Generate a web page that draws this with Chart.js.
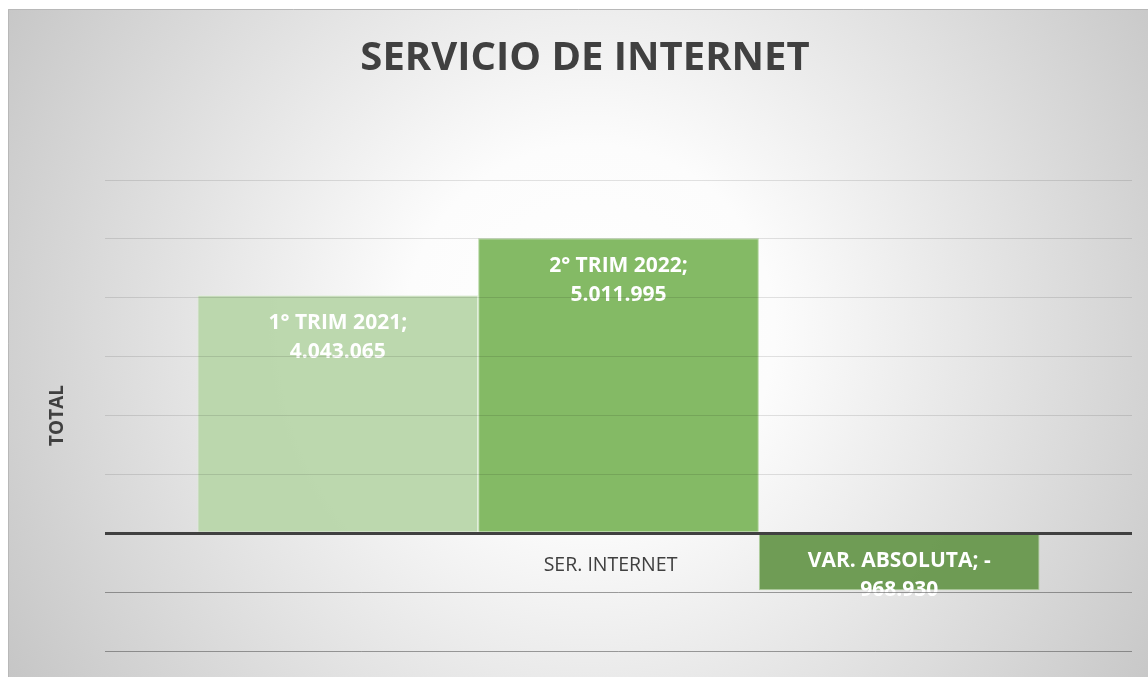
<!DOCTYPE html>
<html>
<head>
<meta charset="utf-8">
<script src="https://cdn.jsdelivr.net/npm/chart.js@4.4.1/dist/chart.umd.min.js"></script>
<style>
    html, body { margin: 0; padding: 0; background: #ffffff; }
    #wrap { width: 1148px; height: 677px; position: relative; }
</style>
</head>
<body>
<div id="wrap"><canvas id="myChart" width="1148" height="677"></canvas></div>
<script>
const categories = ["SER. INTERNET"];
const seriesNames = ["1° TRIM 2021", "2° TRIM 2022", "VAR. ABSOLUTA"];
const trim2021 = [4043065];
const trim2022 = [5011995];
const varAbsoluta = [-968930];
const yTicks = [-2000000, -1000000, 0, 1000000, 2000000, 3000000, 4000000, 5000000, 6000000];

const barColors = ["rgba(184, 214, 170, 0.95)", "rgba(128, 184, 96, 0.97)", "rgba(106, 153, 80, 0.97)"];
const barBorders = ["rgba(225, 238, 218, 0.9)", "rgba(180, 214, 160, 0.9)", "rgba(170, 205, 150, 0.9)"];

function fmt(v){
    const s = Math.abs(v).toString().replace(/\B(?=(\d{3})+(?!\d))/g, ".");
    return v < 0 ? "- " + s : s;
}

// background frame with soft radial shade
const backdrop = {
    id: "backdrop",
    beforeDraw(chart){
        const ctx = chart.ctx;
        ctx.save();
        ctx.fillStyle = "#ffffff";
        ctx.fillRect(0, 0, chart.width, chart.height);
        const g = ctx.createRadialGradient(590, 330, 0, 590, 330, 740);
        g.addColorStop(0, "#ffffff");
        g.addColorStop(0.25, "#fcfcfc");
        g.addColorStop(1, "#bfbfbf");
        ctx.fillStyle = g;
        ctx.fillRect(8, 9, chart.width - 8, chart.height - 9);
        ctx.strokeStyle = "#b8b8b8";
        ctx.lineWidth = 1;
        ctx.beginPath();
        ctx.moveTo(8.5, chart.height);
        ctx.lineTo(8.5, 9.5);
        ctx.lineTo(chart.width, 9.5);
        ctx.stroke();
        ctx.restore();
    }
};

// labels inside bars + category label at the zero line
const barLabels = {
    id: "barLabels",
    afterDatasetsDraw(chart){
        const ctx = chart.ctx;
        const yScale = chart.scales.y;
        const xScale = chart.scales.x;
        ctx.save();
        ctx.textAlign = "center";
        ctx.textBaseline = "middle";
        ctx.fillStyle = "#ffffff";
        ctx.font = "bold 21px 'Open Sans'";
        chart.data.datasets.forEach((ds, i) => {
            const bar = chart.getDatasetMeta(i).data[0];
            const v = ds.data[0];
            const lines = [ds.label + ";", fmt(v)];
            if(v < 0){
                lines[0] = ds.label + "; -";
                lines[1] = fmt(-v);
            }
            const start = v >= 0 ? bar.y + 28 : bar.y - 29;
            lines.forEach((t, k) => ctx.fillText(t, bar.x, start + k * 29));
        });
        ctx.fillStyle = "#404040";
        ctx.font = "19.5px 'Open Sans'";
        const zero = yScale.getPixelForValue(0);
        categories.forEach((c, i) => {
            ctx.fillText(c, xScale.getPixelForValue(i) - 8, zero + 32);
        });
        ctx.restore();
    }
};

const ctx = document.getElementById("myChart");
new Chart(ctx, {
    type: "bar",
    data: {
        labels: categories,
        datasets: [
            { label: seriesNames[0], data: trim2021, backgroundColor: barColors[0], borderColor: barBorders[0], borderWidth: 1 },
            { label: seriesNames[1], data: trim2022, backgroundColor: barColors[1], borderColor: barBorders[1], borderWidth: 1 },
            { label: seriesNames[2], data: varAbsoluta, backgroundColor: barColors[2], borderColor: barBorders[2], borderWidth: 1 }
        ]
    },
    options: {
        responsive: false,
        animation: false,
        layout: { padding: { left: 38, right: 16, top: 9, bottom: 26 } },
        datasets: { bar: { categoryPercentage: 0.82, barPercentage: 1 } },
        plugins: {
            legend: { display: false },
            tooltip: { enabled: false },
            title: {
                display: true,
                text: "SERVICIO DE INTERNET",
                color: "#404040",
                font: { family: "'Open Sans'", size: 40, weight: "bold" },
                padding: { top: 26, bottom: 97 }
            }
        },
        scales: {
            x: { display: false },
            y: {
                min: yTicks[0],
                max: yTicks[yTicks.length - 1],
                afterBuildTicks(scale){
                    scale.ticks = yTicks.map(v => ({ value: v }));
                },
                afterFit(scale){
                    scale.width = 67;
                },
                ticks: { display: false },
                border: { display: false },
                grid: {
                    z: 1,
                    drawTicks: false,
                    color: c => c.tick.value === 0 ? "#404040" : (c.tick.value < 0 ? "rgba(80,80,80,0.55)" : "rgba(0,0,0,0.11)"),
                    lineWidth: c => c.tick.value === 0 ? 3 : 1
                },
                title: {
                    display: true,
                    text: "TOTAL",
                    color: "#404040",
                    font: { family: "'Open Sans'", size: 19, weight: "bold" },
                    padding: { top: 8, bottom: 0 }
                }
            }
        }
    },
    plugins: [backdrop, barLabels]
});
</script>
</body>
</html>
